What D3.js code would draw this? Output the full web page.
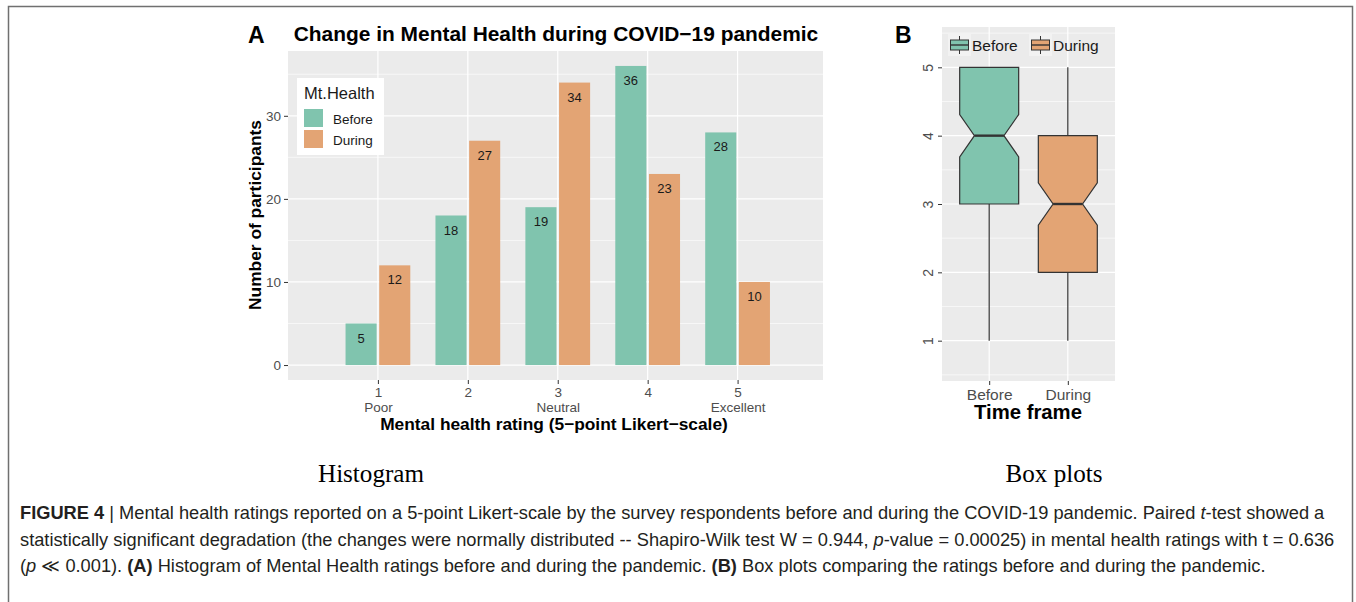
<!DOCTYPE html>
<html><head><meta charset="utf-8">
<script src="https://cdn.jsdelivr.net/npm/d3@7"></script>
<style>
html,body{margin:0;padding:0;background:#fff;}
svg{display:block;font-family:"Liberation Sans",Arial,sans-serif;}
</style></head>
<body>
<svg id="chart" width="1356" height="602"></svg>
<script>
// ---------- data ----------
const ratings = [1, 2, 3, 4, 5];
const ratingNames = ["Poor", "", "Neutral", "", "Excellent"];
const seriesNames = ["Before", "During"];
const beforeCounts = [5, 18, 19, 36, 28];
const duringCounts = [12, 27, 34, 23, 10];
const countTicks = [0, 10, 20, 30];
const countMinor = [5, 15, 25, 35];

const boxGroups = ["Before", "During"];
const boxMin = [1, 1];
const boxQ1 = [3, 2];
const boxMedian = [4, 3];
const boxQ3 = [5, 4];
const boxMax = [5, 5];
const notchLow = [3.69, 2.69];
const notchHigh = [4.31, 3.31];
const boxTicks = [1, 2, 3, 4, 5];
const boxMinor = [0.5, 1.5, 2.5, 3.5, 4.5, 5.5];

const colors = {Before: "#80c4ae", During: "#e3a474"};
const panelBg = "#ebebeb";
const FONT = "Liberation Sans, Arial, sans-serif";

const svg = d3.select("#chart");

function fitWidth(sel, target) {
  const w = sel.node().getComputedTextLength();
  const fs = parseFloat(sel.attr("font-size"));
  sel.attr("font-size", fs * target / w);
  return fs * target / w;
}

// figure border
svg.append("rect").attr("x", 8.5).attr("y", 6.5).attr("width", 1344).attr("height", 700)
  .attr("fill", "none").attr("stroke", "#707070").attr("stroke-width", 1.5);

// ================= Panel A =================
const xA = d3.scaleLinear().domain([0, 5.95]).range([288, 823]);
const yA = d3.scaleLinear().domain([-1.8, 37.8]).range([380, 51]);
const gA = svg.append("g");
gA.append("rect").attr("x", xA.range()[0]).attr("y", yA.range()[1])
  .attr("width", xA.range()[1] - xA.range()[0]).attr("height", yA.range()[0] - yA.range()[1])
  .attr("fill", panelBg);
gA.selectAll(".hmin").data(countMinor).join("line")
  .attr("x1", xA.range()[0]).attr("x2", xA.range()[1])
  .attr("y1", d => yA(d)).attr("y2", d => yA(d)).attr("stroke", "#fff").attr("stroke-width", 0.6);
gA.selectAll(".hmaj").data(countTicks).join("line")
  .attr("x1", xA.range()[0]).attr("x2", xA.range()[1])
  .attr("y1", d => yA(d)).attr("y2", d => yA(d)).attr("stroke", "#fff").attr("stroke-width", 1.2);
gA.selectAll(".vmaj").data(ratings).join("line")
  .attr("y1", yA.range()[0]).attr("y2", yA.range()[1])
  .attr("x1", d => xA(d)).attr("x2", d => xA(d)).attr("stroke", "#fff").attr("stroke-width", 1.2);

// bars
const barData = [];
ratings.forEach((r, i) => {
  barData.push({r, s: "Before", v: beforeCounts[i], off: -1});
  barData.push({r, s: "During", v: duringCounts[i], off: 1});
});
const halfW = xA(0.36) - xA(0);
const gap = 1.3;
gA.selectAll(".bar").data(barData).join("rect")
  .attr("x", d => d.off < 0 ? xA(d.r) - halfW : xA(d.r) + gap)
  .attr("width", halfW - gap)
  .attr("y", d => yA(d.v)).attr("height", d => yA(0) - yA(d.v))
  .attr("fill", d => colors[d.s]);
gA.selectAll(".blab").data(barData).join("text")
  .attr("x", d => d.off < 0 ? xA(d.r) - (halfW + gap) / 2 : xA(d.r) + (halfW + gap) / 2)
  .attr("y", d => yA(d.v) + 19)
  .attr("text-anchor", "middle").attr("font-size", 13).attr("fill", "#1a1a1a")
  .text(d => d.v);

// axes A
const axL = gA.append("g").attr("transform", `translate(${xA.range()[0]},0)`)
  .call(d3.axisLeft(yA).tickValues(countTicks).tickFormat(d3.format("d")).tickSize(4).tickPadding(3));
axL.attr("font-size", null).attr("font-family", null);
axL.select(".domain").remove();
axL.selectAll("line").attr("stroke", "#333");
axL.selectAll("text").style("font-size", "13.5px").attr("fill", "#4d4d4d").style("font-family", FONT);
const axB = gA.append("g").attr("transform", `translate(0,${yA.range()[0]})`)
  .call(d3.axisBottom(xA).tickValues(ratings).tickFormat(d3.format("d")).tickSize(4).tickPadding(3));
axB.attr("font-size", null).attr("font-family", null);
axB.select(".domain").remove();
axB.selectAll("line").attr("stroke", "#333");
axB.selectAll("text").style("font-size", "13.5px").attr("fill", "#4d4d4d").style("font-family", FONT)
  .each(function(d, i) {
    const t = d3.select(this);
    const name = ratingNames[i];
    if (name) t.append("tspan").attr("x", 0).attr("dy", "1.12em").text(name);
  });

// titles A
gA.append("text").attr("x", 248).attr("y", 43).attr("font-size", 23).attr("font-weight", "bold").attr("fill", "#000").text("A");
const tA = gA.append("text").attr("x", 556).attr("y", 41).attr("text-anchor", "middle")
  .attr("font-size", 19).attr("font-weight", "bold").attr("fill", "#000")
  .text("Change in Mental Health during COVID\u221219 pandemic");
fitWidth(tA, 525);
const xt = gA.append("text").attr("x", 554).attr("y", 430).attr("text-anchor", "middle")
  .attr("font-size", 16).attr("font-weight", "bold").attr("fill", "#000")
  .text("Mental health rating (5\u2212point Likert\u2212scale)");
fitWidth(xt, 348);
const yt = gA.append("text").attr("transform", `translate(261,215) rotate(-90)`).attr("text-anchor", "middle")
  .attr("font-size", 16).attr("font-weight", "bold").attr("fill", "#000")
  .text("Number of participants");
fitWidth(yt, 190);

// legend A
const lg = gA.append("g");
lg.append("rect").attr("x", 297).attr("y", 78).attr("width", 87).attr("height", 77).attr("fill", "#fff");
lg.append("text").attr("x", 304).attr("y", 99).attr("font-size", 16.5).attr("fill", "#1a1a1a").text("Mt.Health");
lg.selectAll(".k").data(seriesNames).join("rect")
  .attr("x", 304).attr("y", (d, i) => 109 + i * 21).attr("width", 19).attr("height", 18)
  .attr("fill", d => colors[d]);
lg.selectAll(".kt").data(seriesNames).join("text")
  .attr("x", 333).attr("y", (d, i) => 123.5 + i * 21).attr("font-size", 13.5).attr("fill", "#1a1a1a")
  .text(d => d);

// ================= Panel B =================
const xB = d3.scalePoint().domain(boxGroups).range([942, 1115]).padding(0.6);
const yB = d3.scaleLinear().domain([0.41, 5.59]).range([381, 27]);
const gB = svg.append("g");
gB.append("rect").attr("x", 942).attr("y", 27).attr("width", 1115 - 942).attr("height", 381 - 27).attr("fill", panelBg);
gB.selectAll(".hmin").data(boxMinor).join("line")
  .attr("x1", 942).attr("x2", 1115).attr("y1", d => yB(d)).attr("y2", d => yB(d))
  .attr("stroke", "#fff").attr("stroke-width", 0.6);
gB.selectAll(".hmaj").data(boxTicks).join("line")
  .attr("x1", 942).attr("x2", 1115).attr("y1", d => yB(d)).attr("y2", d => yB(d))
  .attr("stroke", "#fff").attr("stroke-width", 1.2);
gB.selectAll(".vmaj").data(boxGroups).join("line")
  .attr("y1", 27).attr("y2", 381).attr("x1", d => xB(d)).attr("x2", d => xB(d))
  .attr("stroke", "#fff").attr("stroke-width", 1.2);

const boxW = xB.step() * 0.75;
boxGroups.forEach((g, i) => {
  const cx = xB(g), l = cx - boxW / 2, r = cx + boxW / 2, nh = boxW / 4;
  if (boxMin[i] < boxQ1[i])
    gB.append("line").attr("x1", cx).attr("x2", cx).attr("y1", yB(boxMin[i])).attr("y2", yB(boxQ1[i]))
      .attr("stroke", "#333").attr("stroke-width", 1.2);
  if (boxMax[i] > boxQ3[i])
    gB.append("line").attr("x1", cx).attr("x2", cx).attr("y1", yB(boxMax[i])).attr("y2", yB(boxQ3[i]))
      .attr("stroke", "#333").attr("stroke-width", 1.2);
  const pts = [
    [l, yB(boxQ3[i])], [r, yB(boxQ3[i])], [r, yB(notchHigh[i])], [cx + nh, yB(boxMedian[i])],
    [r, yB(notchLow[i])], [r, yB(boxQ1[i])], [l, yB(boxQ1[i])], [l, yB(notchLow[i])],
    [cx - nh, yB(boxMedian[i])], [l, yB(notchHigh[i])]
  ];
  gB.append("path").attr("d", d3.line()(pts) + "Z").attr("fill", colors[g])
    .attr("stroke", "#333").attr("stroke-width", 1.2).attr("stroke-linejoin", "miter");
  gB.append("line").attr("x1", cx - nh).attr("x2", cx + nh)
    .attr("y1", yB(boxMedian[i])).attr("y2", yB(boxMedian[i]))
    .attr("stroke", "#333").attr("stroke-width", 2.4);
});

const bL = gB.append("g").attr("transform", "translate(942,0)")
  .call(d3.axisLeft(yB).tickValues(boxTicks).tickFormat(d3.format("d")).tickSize(4));
bL.attr("font-size", null).attr("font-family", null);
bL.select(".domain").remove();
bL.selectAll("line").attr("stroke", "#333");
bL.selectAll("text").attr("x", null).attr("dy", null).style("font-size", "14px").attr("fill", "#4d4d4d")
  .style("font-family", FONT)
  .attr("text-anchor", "middle").attr("transform", "translate(-9,0) rotate(-90)");
const bB = gB.append("g").attr("transform", "translate(0,381)")
  .call(d3.axisBottom(xB).tickSize(4).tickPadding(4));
bB.attr("font-size", null).attr("font-family", null);
bB.select(".domain").remove();
bB.selectAll("line").attr("stroke", "#333");
bB.selectAll("text").style("font-size", "15.5px").attr("fill", "#4d4d4d").style("font-family", FONT);

gB.append("text").attr("x", 895).attr("y", 43).attr("font-size", 23).attr("font-weight", "bold").attr("fill", "#000").text("B");
const tf = gB.append("text").attr("x", 1028).attr("y", 419).attr("text-anchor", "middle")
  .attr("font-size", 19).attr("font-weight", "bold").attr("fill", "#000").text("Time frame");
fitWidth(tf, 108);

// legend B
const lgB = gB.append("g");
const keyX = [948, 1029];
boxGroups.forEach((g, i) => {
  const kx = keyX[i], ky = 34, kw = 23, kh = 22, kc = kx + kw / 2;
  lgB.append("rect").attr("x", kx).attr("y", ky).attr("width", kw).attr("height", kh).attr("fill", "#f2f2f2");
  lgB.append("line").attr("x1", kc).attr("x2", kc).attr("y1", ky + 2).attr("y2", ky + kh - 2)
    .attr("stroke", "#333").attr("stroke-width", 1);
  lgB.append("rect").attr("x", kx + 2.5).attr("y", ky + 6).attr("width", kw - 5).attr("height", kh - 12)
    .attr("fill", colors[g]).attr("stroke", "#333").attr("stroke-width", 1);
  lgB.append("line").attr("x1", kx + 2.5).attr("x2", kx + kw - 2.5).attr("y1", ky + kh / 2).attr("y2", ky + kh / 2)
    .attr("stroke", "#333").attr("stroke-width", 1.4);
  lgB.append("text").attr("x", kx + kw + 1).attr("y", 50.5).attr("font-size", 15.5).attr("fill", "#1a1a1a").text(g);
});

// ================= sub labels =================
const h1 = svg.append("text").attr("x", 371).attr("y", 482).attr("text-anchor", "middle")
  .attr("font-family", "Liberation Serif, Times New Roman, serif").attr("font-size", 24).attr("fill", "#000").text("Histogram");
fitWidth(h1, 106);
const h2 = svg.append("text").attr("x", 1054).attr("y", 482).attr("text-anchor", "middle")
  .attr("font-family", "Liberation Serif, Times New Roman, serif").attr("font-size", 24).attr("fill", "#000").text("Box plots");
fitWidth(h2, 97);

// ================= caption =================
const capColor = "#231f20";
function capLine(y, parts) {
  const t = svg.append("text").attr("x", 20).attr("y", y).attr("font-size", 15.5).attr("fill", capColor);
  parts.forEach(p => {
    const s = t.append("tspan").text(p.t);
    if (p.b) s.attr("font-weight", "bold");
    if (p.i) s.attr("font-style", "italic");
  });
  return t;
}
const c1 = capLine(519, [{t: "FIGURE 4", b: true}, {t: " | "}, {t: "Mental health ratings reported on a 5-point Likert-scale by the survey respondents before and during the COVID-19 pandemic. Paired "}, {t: "t", i: true}, {t: "-test showed a"}]);
const c2 = capLine(546, [{t: "statistically significant degradation (the changes were normally distributed -- Shapiro-Wilk test W = 0.944, "}, {t: "p", i: true}, {t: "-value = 0.00025) in mental health ratings with t = 0.636"}]);
const c3 = capLine(572, [{t: "("}, {t: "p", i: true}, {t: " \u226a 0.001). "}, {t: "(A)", b: true}, {t: " Histogram of Mental Health ratings before and during the pandemic. "}, {t: "(B)", b: true}, {t: " Box plots comparing the ratings before and during the pandemic."}]);
const fs = fitWidth(c2, 1315);
c1.attr("font-size", fs); c3.attr("font-size", fs);
</script>
</body></html>
